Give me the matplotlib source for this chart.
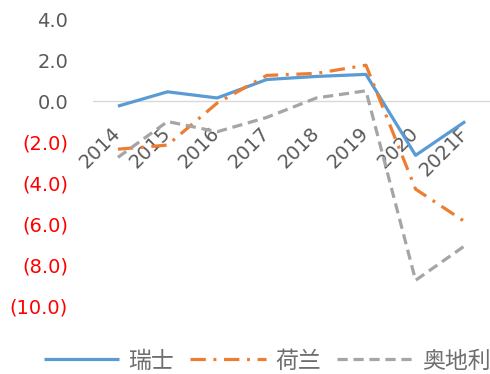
import matplotlib
matplotlib.use('Agg')
import matplotlib.pyplot as plt
import numpy as np

plt.rcParams['font.family'] = ['DejaVu Sans', 'Noto Sans CJK SC']

years = ['2014', '2015', '2016', '2017', '2018', '2019', '2020', '2021F']
swiss = [-0.25, 0.45, 0.15, 1.05, 1.2, 1.3, -2.65, -1.0]
dutch = [-2.35, -2.15, -0.1, 1.25, 1.35, 1.75, -4.3, -5.9]
austria = [-2.75, -1.0, -1.5, -0.8, 0.15, 0.5, -8.75, -7.05]
names = ['瑞士', '荷兰', '奥地利']
yticks = [4, 2, 0, -2, -4, -6, -8, -10]

fig = plt.figure(figsize=(4.9, 3.74), dpi=100)
ax = fig.add_axes([0.19, 0.182, 0.81, 0.767])

x = np.arange(len(years))
lw = 2.3
ax.plot(x, swiss, color='#5B9BD5', lw=lw, label=names[0], solid_capstyle='butt')
ax.plot(x, dutch, color='#ED7D31', lw=lw, label=names[1],
        linestyle=(0, (4.8, 2.4, 0.9, 2.4)))
ax.plot(x, austria, color='#A5A5A5', lw=lw, label=names[2],
        linestyle=(0, (3.2, 1.8)))

ax.axhline(0, color='#D9D9D9', lw=1, zorder=0)
ax.set_xlim(-0.5, len(years) - 0.5)
ax.set_ylim(-10, 4)

for s in ax.spines.values():
    s.set_visible(False)
ax.spines['bottom'].set_position(('data', 0))

ylabels = [f'{v:.1f}' if v >= 0 else f'({-v:.1f})' for v in yticks]
ax.set_yticks(yticks, ylabels)
for t, v in zip(ax.get_yticklabels(), yticks):
    t.set_color('#595959' if v >= 0 else '#FF0000')
ax.tick_params(axis='y', length=0, pad=18, labelsize=14)

ax.set_xticks(x, years)
ax.tick_params(axis='x', length=0, pad=21, labelsize=14, labelcolor='#595959')
for t in ax.get_xticklabels():
    t.set_rotation(45)
    t.set_rotation_mode('anchor')
    t.set_ha('right')
    t.set_va('center')

fig.legend(loc='center', ncol=3, frameon=False, handlelength=3.3,
           labelcolor='#6E6E6E', bbox_to_anchor=(0.545, 1 - 361 / 374),
           columnspacing=0.7, handletextpad=0.4,
           prop={'family': 'Noto Sans CJK SC', 'size': 16.5})

fig.savefig('out.png', dpi=100)
